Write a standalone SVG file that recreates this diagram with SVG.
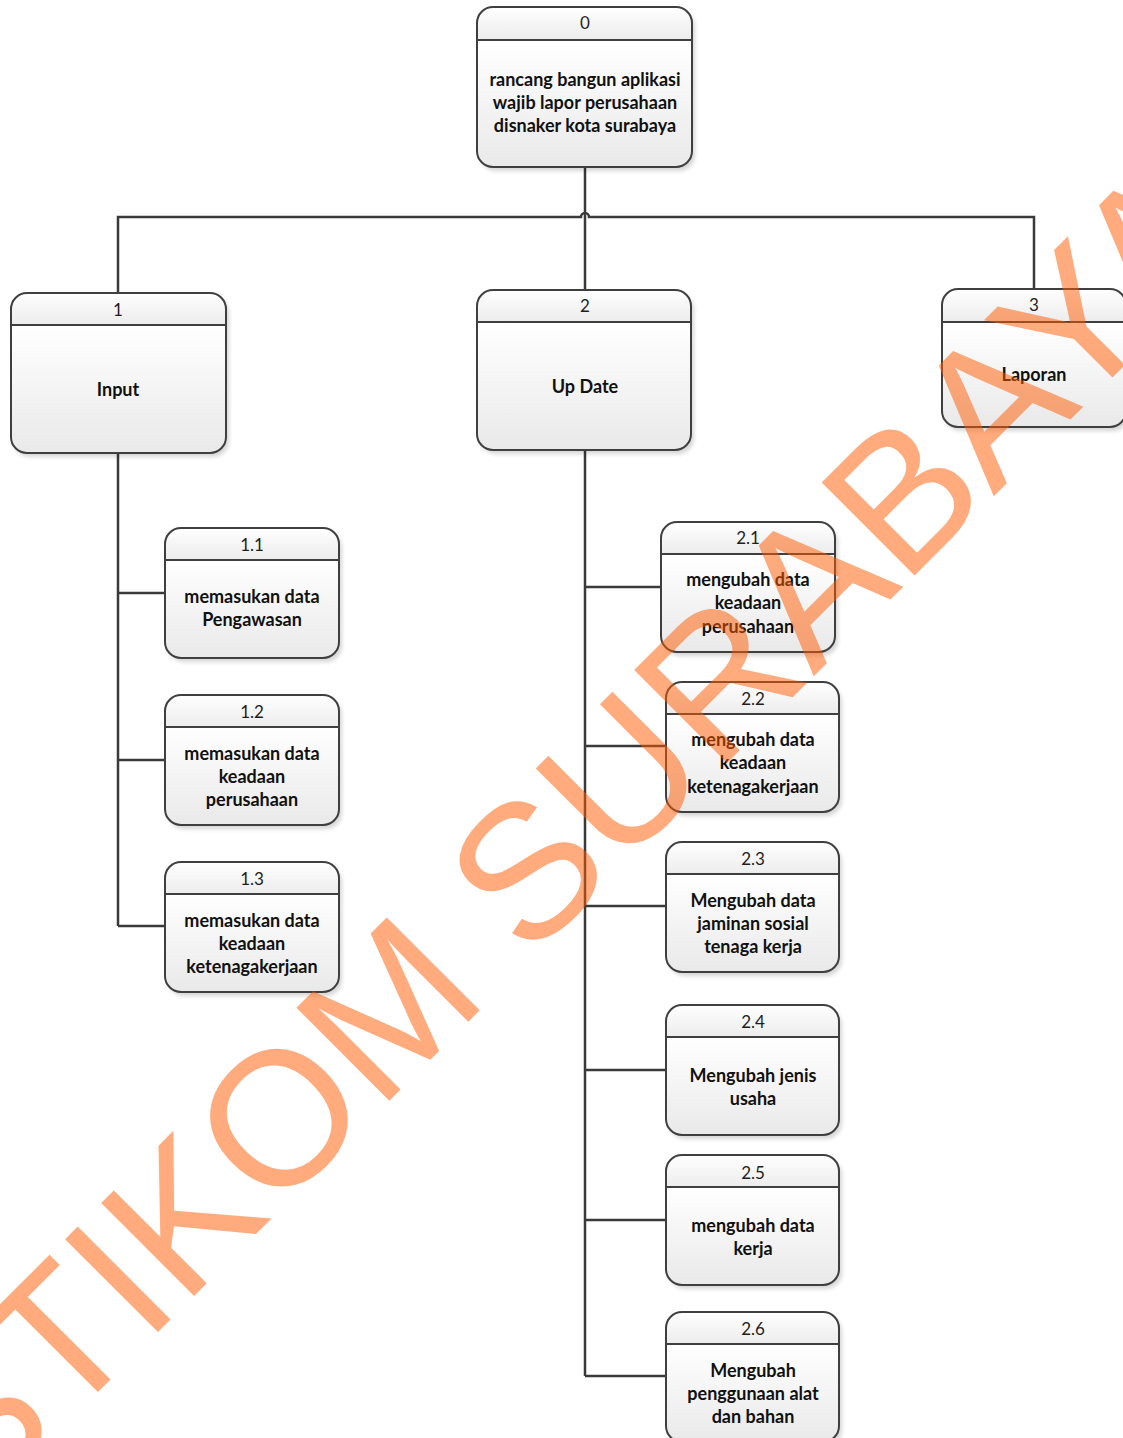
<svg xmlns="http://www.w3.org/2000/svg" width="1123" height="1438" viewBox="0 0 1123 1438">
<defs>
<linearGradient id="gh" x1="0" y1="0" x2="0" y2="1"><stop offset="0" stop-color="#ffffff"/><stop offset="1" stop-color="#ececec"/></linearGradient>
<linearGradient id="gb" x1="0" y1="0" x2="0" y2="1"><stop offset="0" stop-color="#ffffff"/><stop offset="1" stop-color="#e9e9e9"/></linearGradient>
<filter id="sh" x="-10%" y="-10%" width="130%" height="130%"><feGaussianBlur stdDeviation="2"/></filter>
</defs>
<style>
.bg{fill:#fff}
.shadow{fill:#000;opacity:0.16;filter:url(#sh)}
.hd{fill:url(#gh)}
.bd{fill:url(#gb)}
.ol{fill:none;stroke:#3f3f3f;stroke-width:2}
.sep{stroke:#3f3f3f;stroke-width:2}
.num{font-family:Lato,"Liberation Sans",sans-serif;font-size:17px;fill:#1e1e1e;text-anchor:middle}
.lbl{font-family:Lato,"Liberation Sans",sans-serif;font-size:18px;font-weight:bold;fill:#111;text-anchor:middle}
.con{fill:none;stroke:#3a3a3a;stroke-width:2.5}
.wm{font-family:"Liberation Sans",Arial,sans-serif;font-size:191px;fill:#ff5a00;opacity:0.5}
</style>
<rect class="bg" x="0" y="0" width="1123" height="1438"/>

<g id="connectors">
<path class="con" d="M585,167 V290"/>
<path class="con" d="M118,293 V217 H581 A4,4 0 0 1 589,217 H1034 V289"/>
<path class="con" d="M118,453 V926 M118,593 H165 M118,760 H165 M118,926 H165"/>
<path class="con" d="M585,450 V1376 M585,587 H661 M585,746 H666 M585,906 H666 M585,1070 H666 M585,1220 H666 M585,1376 H666"/>
</g>

<g id="node-0">
<rect class="shadow" x="480" y="11" width="215" height="160" rx="16"/>
<path class="hd" d="M477,40 V23 A16,16 0 0 1 493,7 H676 A16,16 0 0 1 692,23 V40 Z"/>
<path class="bd" d="M477,40 H692 V151 A16,16 0 0 1 676,167 H493 A16,16 0 0 1 477,151 Z"/>
<rect class="ol" x="477" y="7" width="215" height="160" rx="16"/>
<line class="sep" x1="477" y1="40" x2="692" y2="40"/>
<text class="num" x="585" y="29">0</text>
<text class="lbl" x="585" y="86">rancang bangun aplikasi</text>
<text class="lbl" x="585" y="109">wajib lapor perusahaan</text>
<text class="lbl" x="585" y="132">disnaker kota surabaya</text>
</g>

<g id="node-1">
<rect class="shadow" x="14" y="297" width="215" height="160" rx="16"/>
<path class="hd" d="M11,325 V309 A16,16 0 0 1 27,293 H210 A16,16 0 0 1 226,309 V325 Z"/>
<path class="bd" d="M11,325 H226 V437 A16,16 0 0 1 210,453 H27 A16,16 0 0 1 11,437 Z"/>
<rect class="ol" x="11" y="293" width="215" height="160" rx="16"/>
<line class="sep" x1="11" y1="325" x2="226" y2="325"/>
<text class="num" x="118" y="316">1</text>
<text class="lbl" x="118" y="396">Input</text>
</g>

<g id="node-2">
<rect class="shadow" x="480" y="294" width="214" height="160" rx="16"/>
<path class="hd" d="M477,322 V306 A16,16 0 0 1 493,290 H675 A16,16 0 0 1 691,306 V322 Z"/>
<path class="bd" d="M477,322 H691 V434 A16,16 0 0 1 675,450 H493 A16,16 0 0 1 477,434 Z"/>
<rect class="ol" x="477" y="290" width="214" height="160" rx="16"/>
<line class="sep" x1="477" y1="322" x2="691" y2="322"/>
<text class="num" x="585" y="312">2</text>
<text class="lbl" x="585" y="393">Up Date</text>
</g>

<g id="node-3">
<rect class="shadow" x="945" y="293" width="184" height="138" rx="16"/>
<path class="hd" d="M942,322 V305 A16,16 0 0 1 958,289 H1110 A16,16 0 0 1 1126,305 V322 Z"/>
<path class="bd" d="M942,322 H1126 V411 A16,16 0 0 1 1110,427 H958 A16,16 0 0 1 942,411 Z"/>
<rect class="ol" x="942" y="289" width="184" height="138" rx="16"/>
<line class="sep" x1="942" y1="322" x2="1126" y2="322"/>
<text class="num" x="1034" y="311">3</text>
<text class="lbl" x="1034" y="381">Laporan</text>
</g>

<g id="node-1-1">
<rect class="shadow" x="168" y="532" width="174" height="130" rx="16"/>
<path class="hd" d="M165,560 V544 A16,16 0 0 1 181,528 H323 A16,16 0 0 1 339,544 V560 Z"/>
<path class="bd" d="M165,560 H339 V642 A16,16 0 0 1 323,658 H181 A16,16 0 0 1 165,642 Z"/>
<rect class="ol" x="165" y="528" width="174" height="130" rx="16"/>
<line class="sep" x1="165" y1="560" x2="339" y2="560"/>
<text class="num" x="252" y="551">1.1</text>
<text class="lbl" x="252" y="603">memasukan data</text>
<text class="lbl" x="252" y="626">Pengawasan</text>
</g>

<g id="node-1-2">
<rect class="shadow" x="168" y="699" width="174" height="130" rx="16"/>
<path class="hd" d="M165,727 V711 A16,16 0 0 1 181,695 H323 A16,16 0 0 1 339,711 V727 Z"/>
<path class="bd" d="M165,727 H339 V809 A16,16 0 0 1 323,825 H181 A16,16 0 0 1 165,809 Z"/>
<rect class="ol" x="165" y="695" width="174" height="130" rx="16"/>
<line class="sep" x1="165" y1="727" x2="339" y2="727"/>
<text class="num" x="252" y="718">1.2</text>
<text class="lbl" x="252" y="760">memasukan data</text>
<text class="lbl" x="252" y="783">keadaan</text>
<text class="lbl" x="252" y="806">perusahaan</text>
</g>

<g id="node-1-3">
<rect class="shadow" x="168" y="866" width="174" height="130" rx="16"/>
<path class="hd" d="M165,894 V878 A16,16 0 0 1 181,862 H323 A16,16 0 0 1 339,878 V894 Z"/>
<path class="bd" d="M165,894 H339 V976 A16,16 0 0 1 323,992 H181 A16,16 0 0 1 165,976 Z"/>
<rect class="ol" x="165" y="862" width="174" height="130" rx="16"/>
<line class="sep" x1="165" y1="894" x2="339" y2="894"/>
<text class="num" x="252" y="885">1.3</text>
<text class="lbl" x="252" y="927">memasukan data</text>
<text class="lbl" x="252" y="950">keadaan</text>
<text class="lbl" x="252" y="973">ketenagakerjaan</text>
</g>

<g id="node-2-1">
<rect class="shadow" x="664" y="526" width="174" height="130" rx="16"/>
<path class="hd" d="M661,554 V538 A16,16 0 0 1 677,522 H819 A16,16 0 0 1 835,538 V554 Z"/>
<path class="bd" d="M661,554 H835 V636 A16,16 0 0 1 819,652 H677 A16,16 0 0 1 661,636 Z"/>
<rect class="ol" x="661" y="522" width="174" height="130" rx="16"/>
<line class="sep" x1="661" y1="554" x2="835" y2="554"/>
<text class="num" x="748" y="544">2.1</text>
<text class="lbl" x="748" y="586">mengubah data</text>
<text class="lbl" x="748" y="609">keadaan</text>
<text class="lbl" x="748" y="633">perusahaan</text>
</g>

<g id="node-2-2">
<rect class="shadow" x="669" y="686" width="173" height="130" rx="16"/>
<path class="hd" d="M666,714 V698 A16,16 0 0 1 682,682 H823 A16,16 0 0 1 839,698 V714 Z"/>
<path class="bd" d="M666,714 H839 V796 A16,16 0 0 1 823,812 H682 A16,16 0 0 1 666,796 Z"/>
<rect class="ol" x="666" y="682" width="173" height="130" rx="16"/>
<line class="sep" x1="666" y1="714" x2="839" y2="714"/>
<text class="num" x="753" y="705">2.2</text>
<text class="lbl" x="753" y="746">mengubah data</text>
<text class="lbl" x="753" y="769">keadaan</text>
<text class="lbl" x="753" y="793">ketenagakerjaan</text>
</g>

<g id="node-2-3">
<rect class="shadow" x="669" y="846" width="173" height="130" rx="16"/>
<path class="hd" d="M666,874 V858 A16,16 0 0 1 682,842 H823 A16,16 0 0 1 839,858 V874 Z"/>
<path class="bd" d="M666,874 H839 V956 A16,16 0 0 1 823,972 H682 A16,16 0 0 1 666,956 Z"/>
<rect class="ol" x="666" y="842" width="173" height="130" rx="16"/>
<line class="sep" x1="666" y1="874" x2="839" y2="874"/>
<text class="num" x="753" y="865">2.3</text>
<text class="lbl" x="753" y="907">Mengubah data</text>
<text class="lbl" x="753" y="930">jaminan sosial</text>
<text class="lbl" x="753" y="953">tenaga kerja</text>
</g>

<g id="node-2-4">
<rect class="shadow" x="669" y="1009" width="173" height="130" rx="16"/>
<path class="hd" d="M666,1037 V1021 A16,16 0 0 1 682,1005 H823 A16,16 0 0 1 839,1021 V1037 Z"/>
<path class="bd" d="M666,1037 H839 V1119 A16,16 0 0 1 823,1135 H682 A16,16 0 0 1 666,1119 Z"/>
<rect class="ol" x="666" y="1005" width="173" height="130" rx="16"/>
<line class="sep" x1="666" y1="1037" x2="839" y2="1037"/>
<text class="num" x="753" y="1028">2.4</text>
<text class="lbl" x="753" y="1082">Mengubah jenis</text>
<text class="lbl" x="753" y="1105">usaha</text>
</g>

<g id="node-2-5">
<rect class="shadow" x="669" y="1159" width="173" height="130" rx="16"/>
<path class="hd" d="M666,1187 V1171 A16,16 0 0 1 682,1155 H823 A16,16 0 0 1 839,1171 V1187 Z"/>
<path class="bd" d="M666,1187 H839 V1269 A16,16 0 0 1 823,1285 H682 A16,16 0 0 1 666,1269 Z"/>
<rect class="ol" x="666" y="1155" width="173" height="130" rx="16"/>
<line class="sep" x1="666" y1="1187" x2="839" y2="1187"/>
<text class="num" x="753" y="1179">2.5</text>
<text class="lbl" x="753" y="1232">mengubah data</text>
<text class="lbl" x="753" y="1255">kerja</text>
</g>

<g id="node-2-6">
<rect class="shadow" x="669" y="1316" width="173" height="130" rx="16"/>
<path class="hd" d="M666,1344 V1328 A16,16 0 0 1 682,1312 H823 A16,16 0 0 1 839,1328 V1344 Z"/>
<path class="bd" d="M666,1344 H839 V1426 A16,16 0 0 1 823,1442 H682 A16,16 0 0 1 666,1426 Z"/>
<rect class="ol" x="666" y="1312" width="173" height="130" rx="16"/>
<line class="sep" x1="666" y1="1344" x2="839" y2="1344"/>
<text class="num" x="753" y="1335">2.6</text>
<text class="lbl" x="753" y="1377">Mengubah</text>
<text class="lbl" x="753" y="1400">penggunaan alat</text>
<text class="lbl" x="753" y="1423">dan bahan</text>
</g>

<text class="wm" transform="translate(-27,1517) rotate(-45)" x="0" y="0">STIKOM SURABAYA</text>
</svg>
